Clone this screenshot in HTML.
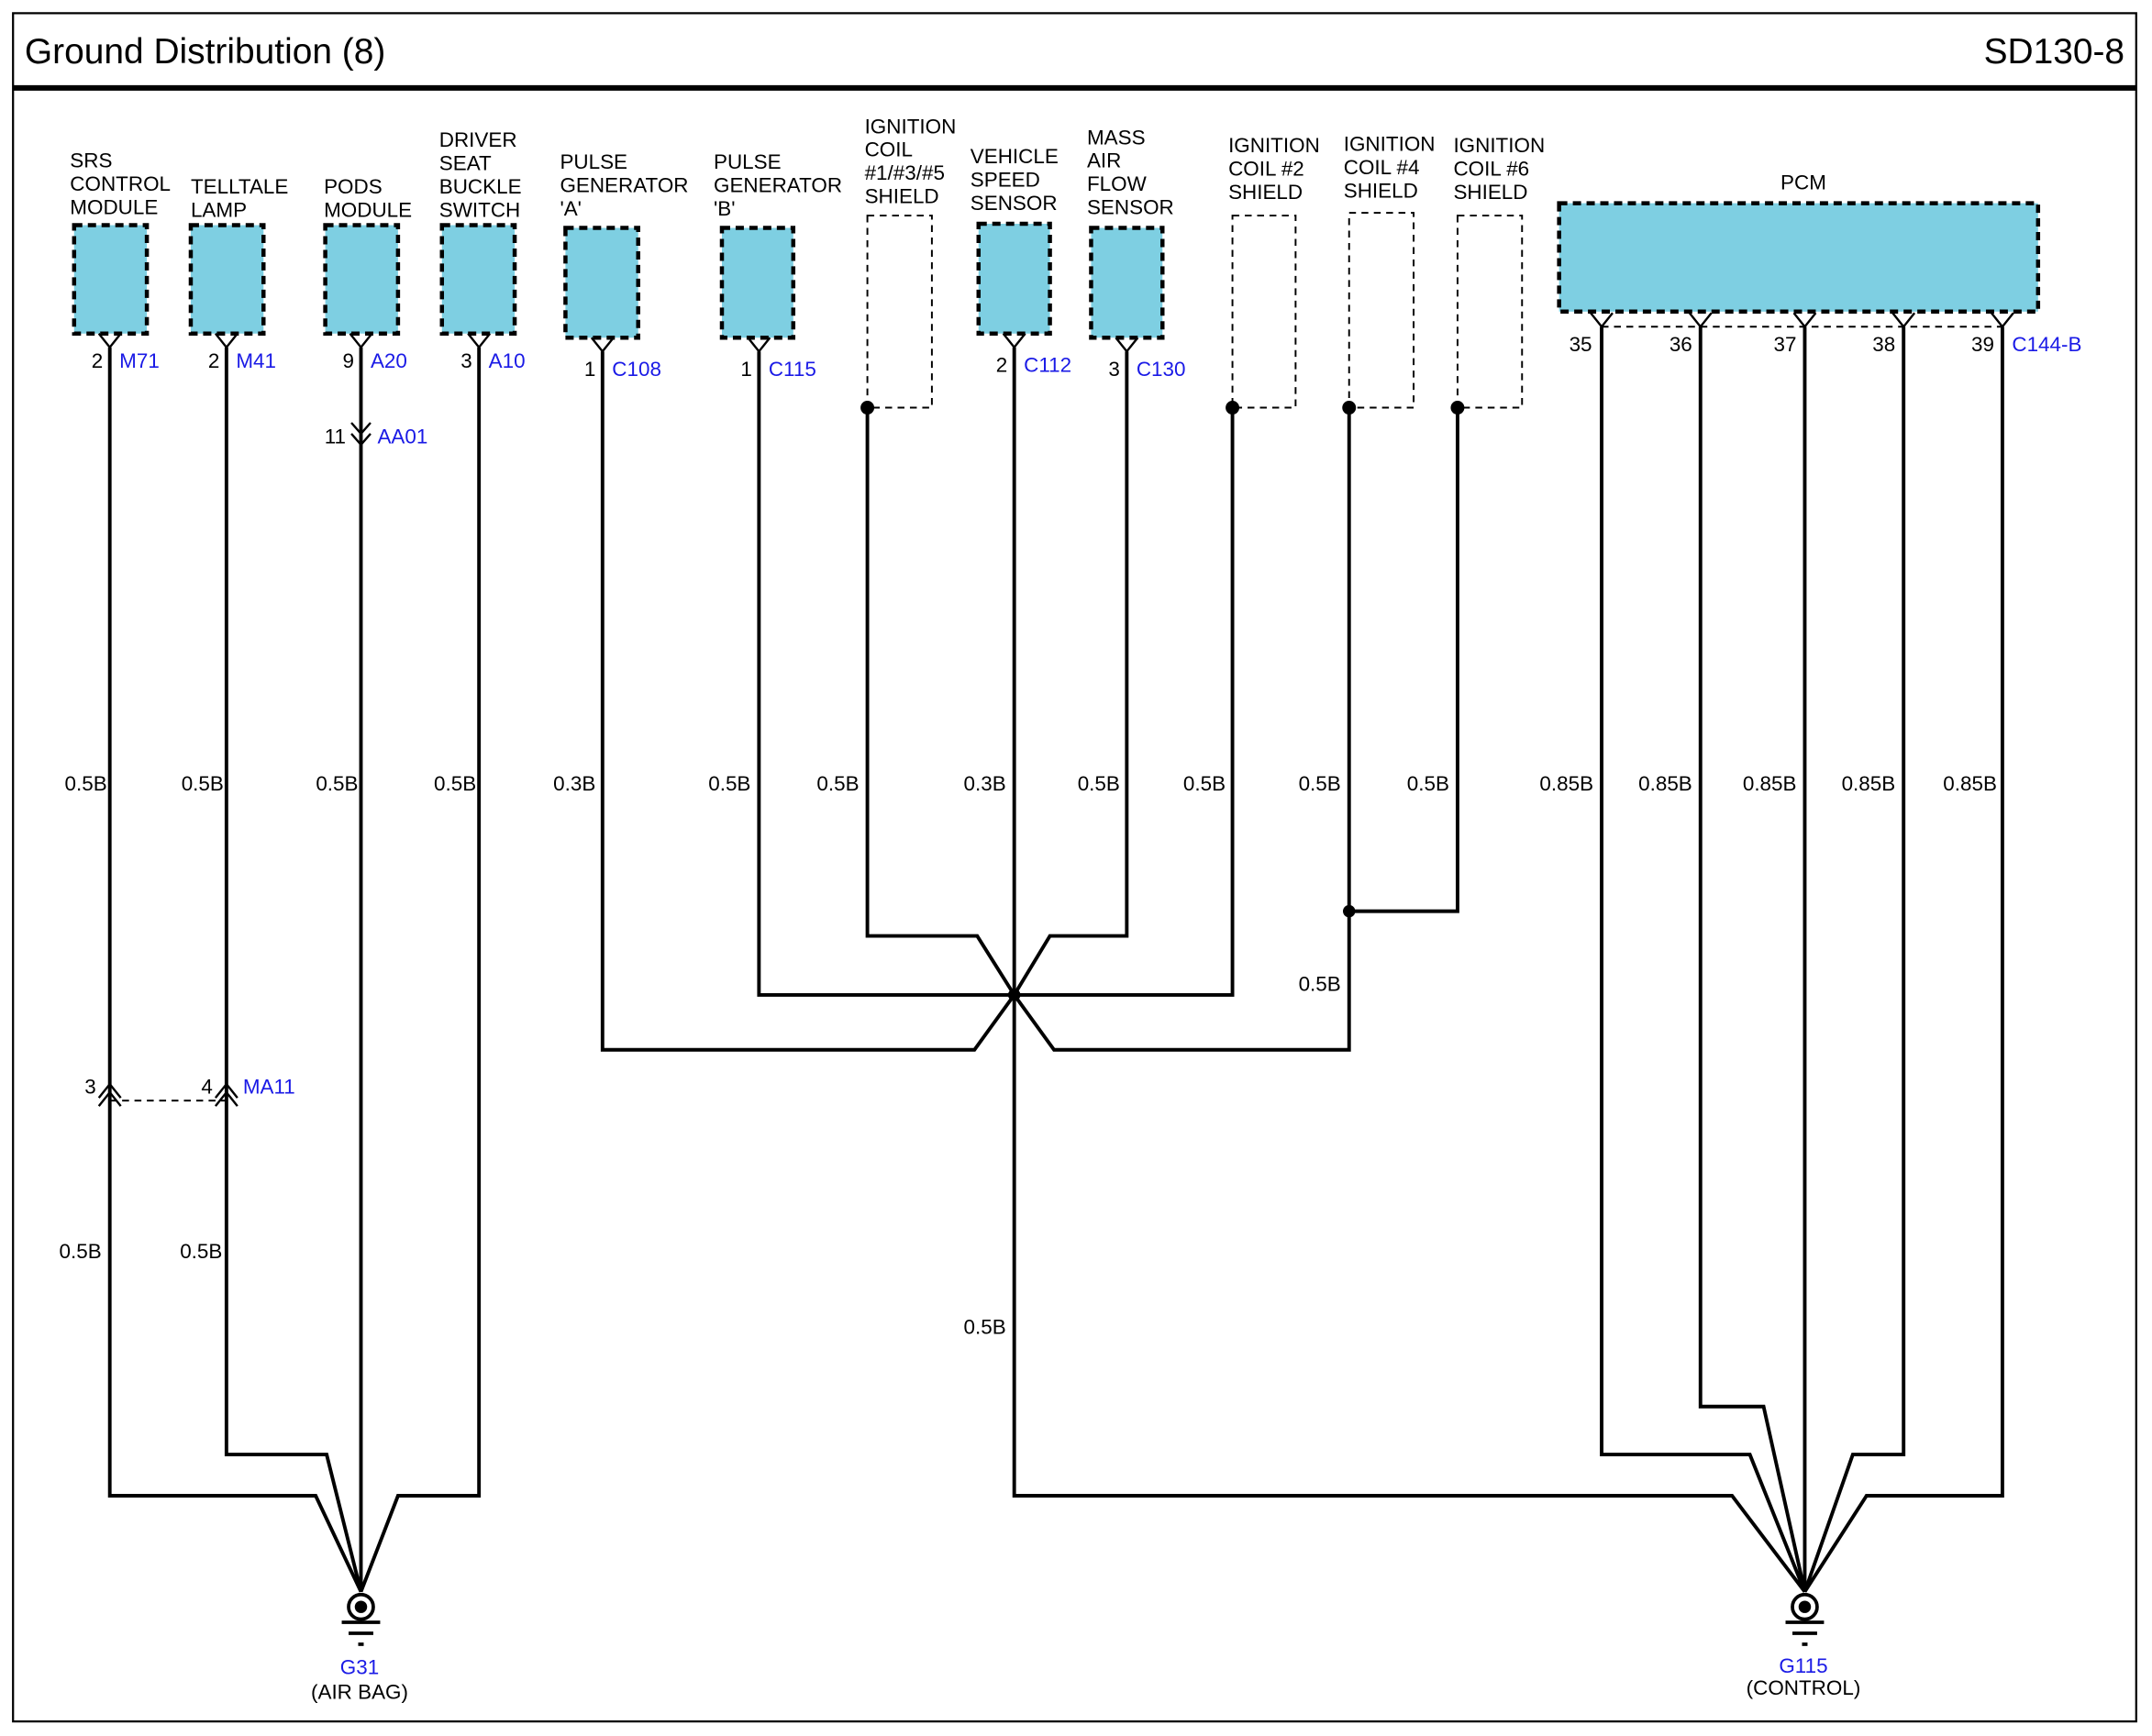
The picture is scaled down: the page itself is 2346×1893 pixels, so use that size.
<!DOCTYPE html>
<html><head><meta charset="utf-8"><style>html,body{margin:0;padding:0;background:#fff}svg{display:block}</style></head>
<body>
<svg width="2346" height="1893" viewBox="0 0 1568 1265" xmlns="http://www.w3.org/2000/svg" font-family="Liberation Sans, sans-serif">
<rect x="0" y="0" width="1568" height="1265" fill="#fff"/>
<rect x="9.5" y="9.5" width="1547" height="1245" fill="none" stroke="#000" stroke-width="1.5"/>
<text x="18" y="46" font-size="26">Ground Distribution (8)</text>
<text x="1548" y="46" font-size="26" text-anchor="end">SD130-8</text>
<line x1="9" y1="64" x2="1557" y2="64" stroke="#000" stroke-width="4"/>

<g font-size="15" fill="#000">
<text x="51" y="122">SRS</text><text x="51" y="139">CONTROL</text><text x="51" y="156">MODULE</text>
<text x="139" y="141">TELLTALE</text><text x="139" y="158">LAMP</text>
<text x="236" y="141">PODS</text><text x="236" y="158">MODULE</text>
<text x="320" y="107">DRIVER</text><text x="320" y="124">SEAT</text><text x="320" y="141">BUCKLE</text><text x="320" y="158">SWITCH</text>
<text x="408" y="123">PULSE</text><text x="408" y="140">GENERATOR</text><text x="408" y="157">'A'</text>
<text x="520" y="123">PULSE</text><text x="520" y="140">GENERATOR</text><text x="520" y="157">'B'</text>
<text x="630" y="97">IGNITION</text><text x="630" y="114">COIL</text><text x="630" y="131">#1/#3/#5</text><text x="630" y="148">SHIELD</text>
<text x="707" y="119">VEHICLE</text><text x="707" y="136">SPEED</text><text x="707" y="153">SENSOR</text>
<text x="792" y="105">MASS</text><text x="792" y="122">AIR</text><text x="792" y="139">FLOW</text><text x="792" y="156">SENSOR</text>
<text x="895" y="111">IGNITION</text><text x="895" y="128">COIL #2</text><text x="895" y="145">SHIELD</text>
<text x="979" y="110">IGNITION</text><text x="979" y="127">COIL #4</text><text x="979" y="144">SHIELD</text>
<text x="1059" y="111">IGNITION</text><text x="1059" y="128">COIL #6</text><text x="1059" y="145">SHIELD</text>
<text x="1314" y="138" text-anchor="middle">PCM</text>
</g>

<g fill="#7ecfe2" stroke="#000" stroke-width="3" stroke-dasharray="6,4">
<rect x="54" y="164" width="53" height="79"/>
<rect x="139" y="164" width="53" height="79"/>
<rect x="237" y="164" width="53" height="79"/>
<rect x="322" y="164" width="53" height="79"/>
<rect x="412" y="166" width="53" height="80"/>
<rect x="526" y="166" width="52" height="80"/>
<rect x="713" y="163" width="52" height="80"/>
<rect x="795" y="166" width="52" height="80"/>
<rect x="1136" y="148" width="349" height="79"/>
</g>
<g fill="none" stroke="#000" stroke-width="1.3" stroke-dasharray="5,4">
<path d="M632 157 H679 V297 H632 Z"/>
<path d="M898 157 H944 V297 H898 Z"/>
<path d="M983 155 H1030 V297 H983 Z"/>
<path d="M1062 157 H1109 V297 H1062 Z"/>
<line x1="1167" y1="238" x2="1459" y2="238"/>
<line x1="80" y1="802" x2="165" y2="802"/>
</g>

<!-- connector Y glyphs -->
<g fill="none" stroke="#000" stroke-width="1.6">
<path d="M72 243 L80 253 L88 243 M157 243 L165 253 L173 243 M255 243 L263 253 L271 243 M341 243 L349 253 L357 243 M431 246 L439 256 L447 246 M545 246 L553 256 L561 246 M731 243 L739 253 L747 243 M813 246 L821 256 L829 246"/>
<path d="M1159 228 L1167 238 L1175 228 M1231 228 L1239 238 L1247 228 M1307 228 L1315 238 L1323 228 M1379 228 L1387 238 L1395 228 M1451 228 L1459 238 L1467 228"/>
<path d="M256 308 L263 316 L270 308 M256 316 L263 324 L270 316"/>
<path d="M72 800 L80 790 L88 800 M72 806 L80 796 L88 806"/>
<path d="M157 800 L165 790 L173 800 M157 806 L165 796 L173 806"/>
</g>

<!-- wires -->
<g fill="none" stroke="#000" stroke-width="2.6" stroke-linejoin="miter">
<path d="M80 253 V1090 H230 L263 1160"/>
<path d="M165 253 V1060 H238 L263 1160"/>
<path d="M263 253 V1160"/>
<path d="M349 253 V1090 H290 L263 1160"/>
<path d="M439 256 V765 H710 L739 725"/>
<path d="M553 256 V725 H898 V297"/>
<path d="M632 297 V682 H712 L739 725"/>
<path d="M821 256 V682 H765 L739 725"/>
<path d="M739 725 L768 765 H983 V297"/>
<path d="M983 664 H1062 V297"/>
<path d="M739 253 V1090 H1262 L1315 1160"/>
<path d="M1167 238 V1060 H1275 L1315 1160"/>
<path d="M1239 238 V1025 H1285 L1315 1160"/>
<path d="M1315 238 V1160"/>
<path d="M1387 238 V1060 H1350 L1315 1160"/>
<path d="M1459 238 V1090 H1360 L1315 1160"/>
</g>
<g fill="#000">
<circle cx="632" cy="297" r="5"/><circle cx="898" cy="297" r="5"/><circle cx="983" cy="297" r="5"/><circle cx="1062" cy="297" r="5"/>
<circle cx="983" cy="664" r="4.5"/><circle cx="739" cy="725" r="4.5"/>
</g>

<!-- grounds -->
<g>
<circle cx="263" cy="1171" r="9" fill="#fff" stroke="#000" stroke-width="2.5"/>
<circle cx="263" cy="1171" r="4.5" fill="#000"/>
<rect x="249" y="1181" width="28" height="2.5"/><rect x="254" y="1189" width="18" height="2.5"/><rect x="261" y="1197" width="4" height="2.5"/>
<circle cx="1315" cy="1171" r="9" fill="#fff" stroke="#000" stroke-width="2.5"/>
<circle cx="1315" cy="1171" r="4.5" fill="#000"/>
<rect x="1301" y="1181" width="28" height="2.5"/><rect x="1306" y="1189" width="18" height="2.5"/><rect x="1313" y="1197" width="4" height="2.5"/>
</g>

<g font-size="15" fill="#000">
<text x="75" y="268" text-anchor="end">2</text><text x="160" y="268" text-anchor="end">2</text><text x="258" y="268" text-anchor="end">9</text><text x="344" y="268" text-anchor="end">3</text>
<text x="434" y="274" text-anchor="end">1</text><text x="548" y="274" text-anchor="end">1</text><text x="734" y="271" text-anchor="end">2</text><text x="816" y="274" text-anchor="end">3</text>
<text x="252" y="323" text-anchor="end">11</text>
<text x="70" y="797" text-anchor="end">3</text><text x="155" y="797" text-anchor="end">4</text>
<text x="1160" y="256" text-anchor="end">35</text><text x="1233" y="256" text-anchor="end">36</text><text x="1309" y="256" text-anchor="end">37</text><text x="1381" y="256" text-anchor="end">38</text><text x="1453" y="256" text-anchor="end">39</text>
<g text-anchor="end">
<text x="78" y="576">0.5B</text><text x="163" y="576">0.5B</text><text x="261" y="576">0.5B</text><text x="347" y="576">0.5B</text>
<text x="434" y="576">0.3B</text><text x="547" y="576">0.5B</text><text x="626" y="576">0.5B</text><text x="733" y="576">0.3B</text>
<text x="816" y="576">0.5B</text><text x="893" y="576">0.5B</text><text x="977" y="576">0.5B</text><text x="1056" y="576">0.5B</text>
<text x="1161" y="576">0.85B</text><text x="1233" y="576">0.85B</text><text x="1309" y="576">0.85B</text><text x="1381" y="576">0.85B</text><text x="1455" y="576">0.85B</text>
<text x="977" y="722">0.5B</text>
<text x="74" y="917">0.5B</text><text x="162" y="917">0.5B</text>
<text x="733" y="972">0.5B</text>
</g>
<text x="262" y="1238" text-anchor="middle">(AIR BAG)</text>
<text x="1314" y="1235" text-anchor="middle">(CONTROL)</text>
</g>
<g font-size="15" fill="#1a1ae6">
<text x="87" y="268">M71</text><text x="172" y="268">M41</text><text x="270" y="268">A20</text><text x="356" y="268">A10</text>
<text x="446" y="274">C108</text><text x="560" y="274">C115</text><text x="746" y="271">C112</text><text x="828" y="274">C130</text>
<text x="275" y="323">AA01</text><text x="177" y="797">MA11</text>
<text x="1466" y="256">C144-B</text>
<text x="262" y="1220" text-anchor="middle">G31</text>
<text x="1314" y="1219" text-anchor="middle">G115</text>
</g>
</svg>
</body></html>
